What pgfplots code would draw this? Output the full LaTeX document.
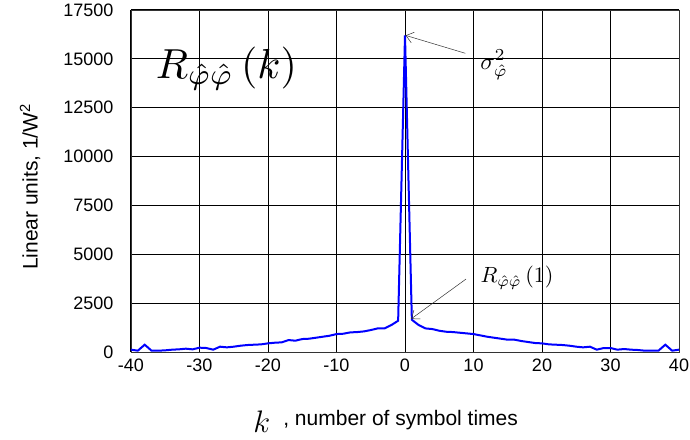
\documentclass[border=0pt]{standalone}
\usepackage{fontspec}
\setmainfont{Liberation Sans}
\usepackage{pgfplots}
\pgfplotsset{compat=1.18}
\usetikzlibrary{arrows.meta}
\begin{document}
\begin{tikzpicture}
\begin{axis}[
  scale only axis,
  width=548pt, height=342pt,
  xmin=-40, xmax=40, ymin=0, ymax=17500,
  xtick={-40,-30,...,40},
  ytick={0,2500,...,17500},
  scaled ticks=false,
  grid=major,
  major grid style={black, line width=1pt},
  axis line style={black!80, line width=0.7pt},
  tick style={draw=none},
  /pgf/number format/assume math mode=true,
  /pgf/number format/1000 sep={},
  tick label style={font=\fontsize{18}{20}\selectfont},
  yticklabel style={xshift=-14pt},
  xticklabel style={yshift=-3pt},
  ylabel={Linear units, 1/W\textsuperscript{2}},
  ylabel style={font=\fontsize{21}{23}\selectfont, at={(rel axis cs:-0.184,0.483)}, anchor=center},
  xlabel={\raisebox{-7pt}{\scalebox{1.5}{$k$}}\hspace{13pt}, number of symbol times},
  xlabel style={font=\fontsize{21}{23}\selectfont, at={(rel axis cs:0.217,-0.216)}, anchor=base west},
  clip=false,
]
\addplot[blue, line width=2pt] coordinates {
(-40,119) (-39,68) (-38,374) (-37,68) (-36,68) (-35,85) (-34,119) (-33,136)
(-32,170) (-31,136) (-30,221) (-29,204) (-28,119) (-27,272) (-26,238) (-25,272)
(-24,323) (-23,357) (-22,374) (-21,391) (-20,442) (-19,476) (-18,493) (-17,612)
(-16,578) (-15,663) (-14,680) (-13,731) (-12,782) (-11,833) (-10,918) (-9,935)
(-8,1003) (-7,1020) (-6,1054) (-5,1122) (-4,1207) (-3,1207) (-2,1377) (-1,1600)
(0,16200)
(1,1650) (2,1377) (3,1207) (4,1173) (5,1088) (6,1037) (7,1020) (8,986)
(9,952) (10,918) (11,850) (12,782) (13,731) (14,680) (15,629) (16,629)
(17,561) (18,510) (19,459) (20,442) (21,391) (22,374) (23,357) (24,323)
(25,272) (26,238) (27,272) (28,119) (29,204) (30,204) (31,119) (32,153)
(33,119) (34,102) (35,68) (36,68) (37,68) (38,374) (39,68) (40,119)
};
\node at (axis cs:-26.06,14500)
  {\scalebox{4.2}{$R_{\hat\varphi\hat\varphi}\left(k\right)$}};
\node at (axis cs:13.0,14700)
  {\scalebox{2.4}{$\sigma^2_{\hat\varphi}$}};
\draw[-{Straight Barb[length=7pt,width=11pt]}, black!80, line width=0.5pt] (axis cs:8.8,15285) -- (axis cs:0.1,16200);
\node at (axis cs:16.35,3800)
  {\scalebox{2.2}{$R_{\hat\varphi\hat\varphi}\left(1\right)$}};
\draw[-{Straight Barb[length=7pt,width=11pt]}, black!80, line width=0.5pt] (axis cs:8.9,3730) -- (axis cs:0.9,1695);
\end{axis}
\pgfresetboundingbox
\useasboundingbox ([shift={(-131pt,-87pt)}]current axis.south west) rectangle ([shift={(11pt,10pt)}]current axis.north east);
\end{tikzpicture}
\end{document}
